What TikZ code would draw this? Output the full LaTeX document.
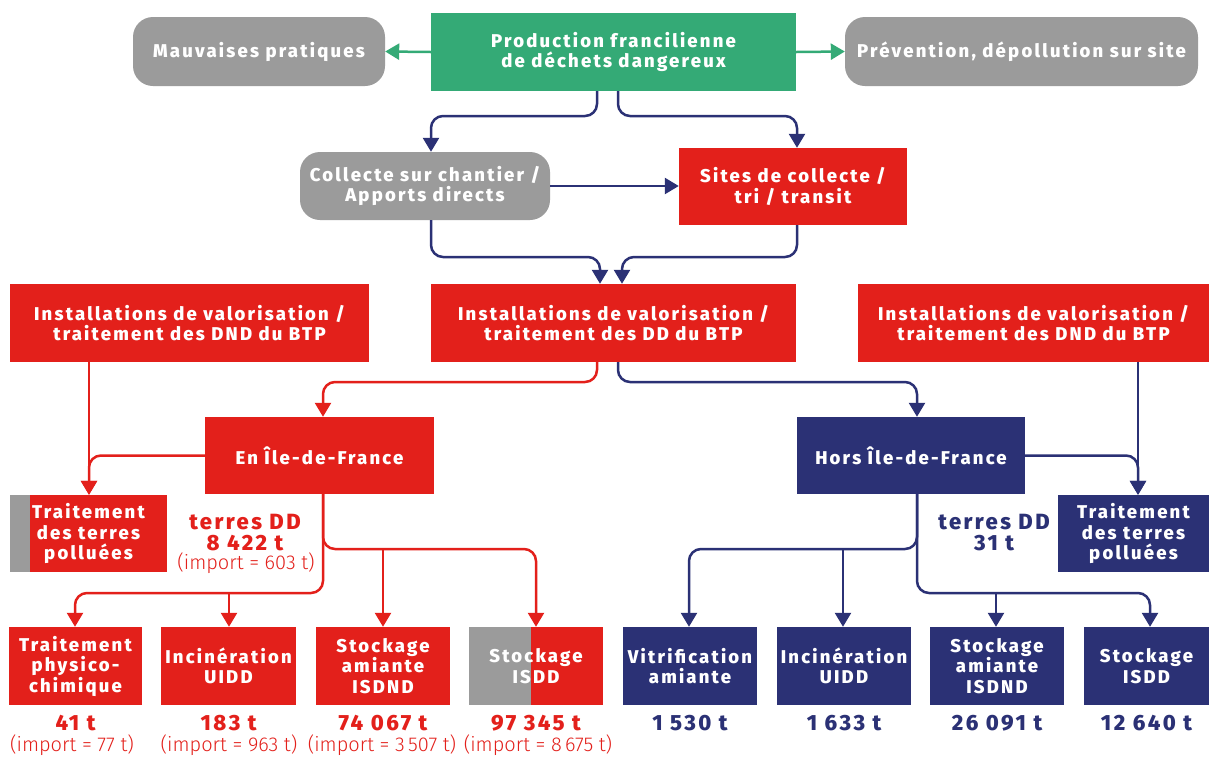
\documentclass[tikz,border=0pt]{standalone}
\usepackage{fontspec}
\setmainfont{Fira Sans}
\newfontfamily\boxfont{Fira Sans ExtraBold}[LetterSpace=12]
\newfontfamily\qtyfont{Fira Sans ExtraBold}[LetterSpace=11]
\newfontfamily\lightfont{Fira Sans Light}
\newcommand\thsep{\hspace{0.34em}}
\usetikzlibrary{arrows.meta}
\definecolor{pgreen}{RGB}{52,170,118}
\definecolor{pred}{RGB}{227,32,27}
\definecolor{pblue}{RGB}{43,49,117}
\definecolor{pgray}{RGB}{155,155,155}
\begin{document}
\begin{tikzpicture}[x=1pt,y=-1pt,
  box/.style={text=white, inner sep=0pt, align=center,
    font=\boxfont\fontsize{18.5}{20.5}\selectfont},
  greenbox/.style={box, fill=pgreen},
  redbox/.style={box, fill=pred},
  bluebox/.style={box, fill=pblue},
  graybox/.style={box, fill=pgray, rounded corners=20pt},
  conn/.style={line width=2.5pt, rounded corners=12pt,
    -{Triangle[width=16pt,length=14pt]}},
  gconn/.style={conn, draw=pgreen, fill=pgreen},
  rconn/.style={conn, draw=pred},
  bconn/.style={conn, draw=pblue},
  qty/.style={inner sep=0pt, align=center, font=\qtyfont\fontsize{22}{21}\selectfont},
  imp/.style={inner sep=0pt, text=pred, font=\lightfont\fontsize{20}{20}\selectfont}]
\useasboundingbox[fill=white] (0,0) rectangle (1209,756);

% --- top row
\node[greenbox, minimum width=365pt, minimum height=78pt] (prod) at (613.5,52)
  {Production francilienne\\de déchets dangereux};
\node[graybox, minimum width=252pt, minimum height=69pt] (mauv) at (259,51.5)
  {Mauvaises pratiques};
\node[graybox, minimum width=353pt, minimum height=69pt] (prev) at (1021.5,51.5)
  {Prévention, dépollution sur site};

% --- collection level
\node[graybox, minimum width=250pt, minimum height=68pt] (collecte) at (425,186)
  {Collecte sur chantier /\\Apports directs};
\node[redbox, minimum width=228pt, minimum height=77pt] (sites) at (793,186.5)
  {Sites de collecte /\\tri / transit};

% --- treatment installations
\node[redbox, minimum width=359pt, minimum height=78pt] (dndL) at (189.5,323)
  {Installations de valorisation /\\traitement des DND du BTP};
\node[redbox, minimum width=365pt, minimum height=78pt] (dd) at (613.5,323)
  {Installations de valorisation /\\traitement des DD du BTP};
\node[redbox, minimum width=351pt, minimum height=78pt] (dndR) at (1033.5,323)
  {Installations de valorisation /\\traitement des DND du BTP};

% --- destination
\node[redbox, minimum width=229pt, minimum height=77pt] (enidf) at (319.5,455.5)
  {En Île-de-France};
\node[bluebox, minimum width=228pt, minimum height=77pt] (hors) at (911,455.5)
  {Hors Île-de-France};

% --- polluted soils
\node[redbox, minimum width=157pt, minimum height=77pt] (terresL) at (88.5,533.5) {};
\fill[pgray] (terresL.north west) rectangle ([xshift=20pt]terresL.south west);
\node[box] (terresLt) at (terresL.center) {Traitement\\des terres\\polluées};
\node[bluebox, minimum width=151pt, minimum height=77pt] (terresR) at (1133.5,533.5)
  {Traitement\\des terres\\polluées};

\node[qty, text=pred] (tddL) at (245,522) {terres DD};
\node[qty, text=pred] (tddLq) at (245,543) {8\thsep422 t};
\node[imp] (tddLi) at (246,563) {(import = 603 t)};
\node[qty, text=pblue] (tddR) at (994,522) {terres DD};
\node[qty, text=pblue] (tddRq) at (994,543) {31 t};

% --- final treatments
\node[redbox, minimum width=133pt, minimum height=78pt] (b1) at (75.5,666)
  {Traitement\\physico-\\chimique};
\node[redbox, minimum width=135pt, minimum height=78pt] (b2) at (228.5,666)
  {Incinération\\UIDD};
\node[redbox, minimum width=134pt, minimum height=78pt] (b3) at (383,666)
  {Stockage\\amiante\\ISDND};
\node[redbox, minimum width=134pt, minimum height=78pt] (b4) at (536,666) {};
\fill[pgray] (b4.north west) rectangle ([xshift=62pt]b4.south west);
\node[box] (b4t) at (b4.center) {Stockage\\ISDD};
\node[bluebox, minimum width=134pt, minimum height=78pt] (b5) at (690,666)
  {Vitrification\\amiante};
\node[bluebox, minimum width=134pt, minimum height=78pt] (b6) at (844,666)
  {Incinération\\UIDD};
\node[bluebox, minimum width=134pt, minimum height=78pt] (b7) at (997,666)
  {Stockage\\amiante\\ISDND};
\node[bluebox, minimum width=125pt, minimum height=78pt] (b8) at (1146.5,666)
  {Stockage\\ISDD};

% --- tonnages
\node[qty, text=pred] (q1) at (75.5,723) {41 t};
\node[qty, text=pred] (q2) at (228.5,723) {183 t};
\node[qty, text=pred] (q3) at (383,723) {74\thsep067 t};
\node[qty, text=pred] (q4) at (536,723) {97\thsep345 t};
\node[qty, text=pblue] (q5) at (690,723) {1\thsep530 t};
\node[qty, text=pblue] (q6) at (844,723) {1\thsep633 t};
\node[qty, text=pblue] (q7) at (997,723) {26\thsep091 t};
\node[qty, text=pblue] (q8) at (1146.5,723) {12\thsep640 t};
\node[imp] (i1) at (72,745) {(import = 77 t)};
\node[imp] (i2) at (229,745) {(import = 963 t)};
\node[imp] (i3) at (382,745) {(import = 3\,507 t)};
\node[imp] (i4) at (538,745) {(import = 8\,675 t)};

% --- branching points
\coordinate (rj1) at (229,593);
\coordinate (rj2) at (383,549);
\coordinate (bj1) at (843,549);
\coordinate (bj2) at (996,593);

% --- connectors
\draw[gconn] (prod.west) -- (mauv.east);
\draw[gconn] (prod.east) -- (prev.west);

\draw[bconn] (597,0 |- prod.south) -- (597,116) -| (431,0 |- collecte.north);
\draw[bconn] (618,0 |- prod.south) -- (618,116) -| (797,0 |- sites.north);
\draw[bconn] (collecte.east) -- (collecte.east -| sites.west);
\draw[bconn] (431,0 |- collecte.south) -- (431,257) -| (600,0 |- dd.north);
\draw[bconn] (797,0 |- sites.south) -- (797,257) -| (622,0 |- dd.north);

\draw[rconn] (597,0 |- dd.south) -- (597,382) -| (323,0 |- enidf.north);
\draw[bconn] (618,0 |- dd.south) -- (618,382) -| (917,0 |- hors.north);

\draw[rconn] (89,0 |- dndL.south) -- (89,0 |- terresL.north);
\draw[rconn] (enidf.west) -| (89,0 |- terresL.north);
\draw[bconn] (1138,0 |- dndR.south) -- (1138,0 |- terresR.north);
\draw[bconn] (hors.east) -| (1138,0 |- terresR.north);

\draw[rconn] (323,0 |- enidf.south) -- (323,593) -| (75,0 |- b1.north);
\draw[rconn] (rj1) -- (rj1 |- b2.north);
\draw[rconn] (323,0 |- enidf.south) -- (323,549) -| (536,0 |- b4.north);
\draw[rconn] (rj2) -- (rj2 |- b3.north);

\draw[bconn] (917,0 |- hors.south) -- (917,549) -| (689,0 |- b5.north);
\draw[bconn] (bj1) -- (bj1 |- b6.north);
\draw[bconn] (917,0 |- hors.south) -- (917,593) -| (1150,0 |- b8.north);
\draw[bconn] (bj2) -- (bj2 |- b7.north);
\end{tikzpicture}
\end{document}
